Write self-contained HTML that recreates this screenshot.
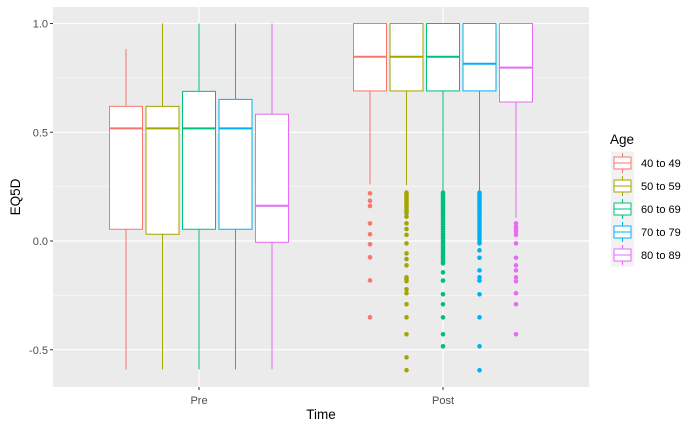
<!DOCTYPE html>
<html><head><meta charset="utf-8"><style>
body{margin:0;background:#fff;}
svg{display:block;font-family:"Liberation Sans",sans-serif;}
</style></head><body>
<svg id="chart" width="700" height="432"></svg>
<script>
const groups=["Pre","Post"];
const ages=["40 to 49","50 to 59","60 to 69","70 to 79","80 to 89"];
const colors=["#F8766D","#A3A500","#00BF7D","#00B0F6","#E76BF3"];
// [lowerWhisker, q1, median, q3, upperWhisker] per age
const preStats=[[-0.59,0.054,0.518,0.619,0.883],[-0.59,0.031,0.518,0.619,1.0],[-0.59,0.054,0.518,0.688,1.0],[-0.59,0.054,0.518,0.651,1.0],[-0.59,-0.006,0.162,0.583,1.0]];
const postStats=[[0.26,0.69,0.847,1.0,1.0],[0.257,0.69,0.847,1.0,1.0],[0.222,0.69,0.847,1.0,1.0],[0.222,0.69,0.815,1.0,1.0],[0.105,0.639,0.797,1.0,1.0]];
const postOutliers=[
[0.219,0.185,0.161,0.081,0.031,-0.015,-0.075,-0.181,-0.351],
[0.222,0.213,0.204,0.195,0.185,0.175,0.165,0.156,0.146,0.137,0.127,0.112,0.081,0.055,0.028,-0.011,-0.057,-0.083,-0.112,-0.167,-0.176,-0.185,-0.222,-0.240,-0.291,-0.351,-0.429,-0.535,-0.594],
[0.222,0.213,0.204,0.195,0.185,0.175,0.165,0.156,0.146,0.137,0.127,0.117,0.107,0.097,0.087,0.077,0.066,0.055,0.043,0.033,0.022,0.012,-0.001,-0.011,-0.021,-0.031,-0.043,-0.053,-0.063,-0.073,-0.083,-0.095,-0.103,-0.144,-0.182,-0.245,-0.291,-0.351,-0.429,-0.484],
[0.222,0.213,0.204,0.195,0.185,0.175,0.165,0.156,0.146,0.137,0.127,0.117,0.107,0.097,0.087,0.077,0.066,0.055,0.043,0.033,0.022,0.012,-0.001,-0.011,-0.043,-0.077,-0.135,-0.167,-0.182,-0.245,-0.351,-0.484,-0.594],
[0.081,0.066,0.055,0.043,0.028,-0.011,-0.077,-0.112,-0.135,-0.167,-0.185,-0.240,-0.291,-0.429]];
const yTicks=[1.0,0.5,0.0,-0.5];
const yTickLabels=["1.0","0.5","0.0","-0.5"];
const yMinor=[0.75,0.25,-0.25];

const NS="http://www.w3.org/2000/svg";
const svg=document.getElementById('chart');
function mk(t,a,p){const e=document.createElementNS(NS,t);for(const k in a)e.setAttribute(k,a[k]);(p||svg).appendChild(e);return e;}
const PL=53,PR=589,PT=7,PB=387;
const y=v=>241-217.5*v;
const xg=i=>199+244*i;
const xa=(g,a)=>xg(g)+(a-2)*36.5;
const BW=33;

const panel=mk('rect',{x:PL,y:PT,width:PR-PL,height:PB-PT,fill:'#EBEBEB'});


yMinor.forEach(v=>{const l=mk('line',{x1:PL,x2:PR,y1:y(v),y2:y(v),stroke:'#fff','stroke-width':0.6});});
yTicks.forEach((v,i)=>{
 const l=mk('line',{x1:PL,x2:PR,y1:y(v),y2:y(v),stroke:'#fff','stroke-width':1.2});
 
 const tk=mk('line',{x1:PL-3,x2:PL,y1:y(v),y2:y(v),stroke:'#333','stroke-width':1});
 
 const t=mk('text',{x:PL-5,y:y(v)+4,'text-anchor':'end','font-size':11,fill:'#4D4D4D'});t.textContent=yTickLabels[i];
 
});
groups.forEach((g,i)=>{
 const l=mk('line',{x1:xg(i),x2:xg(i),y1:PT,y2:PB,stroke:'#fff','stroke-width':1.2});
 
 const tk=mk('line',{x1:xg(i),x2:xg(i),y1:PB,y2:PB+3,stroke:'#333','stroke-width':1});
 
 const t=mk('text',{x:xg(i),y:PB+17,'text-anchor':'middle','font-size':11,fill:'#4D4D4D'});t.textContent=g;
 
});
[preStats,postStats].forEach((stats,gi)=>{
 stats.forEach((s,a)=>{
  const cx=xa(gi,a),c=colors[a];
  const grp=mk('g',{});
  
  
  mk('line',{x1:cx,x2:cx,y1:y(s[4]),y2:y(s[3]),stroke:c,'stroke-width':1},grp);
  mk('line',{x1:cx,x2:cx,y1:y(s[1]),y2:y(s[0]),stroke:c,'stroke-width':1},grp);
  mk('rect',{x:cx-BW/2,y:y(s[3]),width:BW,height:y(s[1])-y(s[3]),fill:'#fff',stroke:c,'stroke-width':1},grp);
  mk('line',{x1:cx-BW/2,x2:cx+BW/2,y1:y(s[2]),y2:y(s[2]),stroke:c,'stroke-width':2},grp);
 });
});
postOutliers.forEach((arr,a)=>{
 arr.forEach(v=>{
  const p=mk('circle',{cx:xa(1,a),cy:y(v),r:2.3,fill:colors[a]});
  
  
 });
});
const xt=mk('text',{x:(PL+PR)/2,y:419,'text-anchor':'middle','font-size':13.5,fill:'#000'});xt.textContent='Time';

const yt=mk('text',{x:0,y:0,transform:'translate(20,197) rotate(-90)','text-anchor':'middle','font-size':13.5,fill:'#000'});yt.textContent='EQ5D';

const lt=mk('text',{x:610,y:144,'font-size':13.5,fill:'#000'});lt.textContent='Age';

ages.forEach((ag,a)=>{
 const cy=163+a*23,c=colors[a];
 const g=mk('g',{});
 
 
 mk('rect',{x:611,y:cy-11.5,width:23,height:23,fill:'#F2F2F2'},g);
 mk('line',{x1:622.5,x2:622.5,y1:cy-10,y2:cy+10,stroke:c,'stroke-width':1},g);
 mk('rect',{x:614,y:cy-6,width:17,height:12,fill:'#fff',stroke:c,'stroke-width':1},g);
 mk('line',{x1:614,x2:631,y1:cy,y2:cy,stroke:c,'stroke-width':1},g);
 const t=mk('text',{x:641,y:cy+4,'font-size':11,fill:'#000'},g);t.textContent=ag;
});
</script>
</body></html>
